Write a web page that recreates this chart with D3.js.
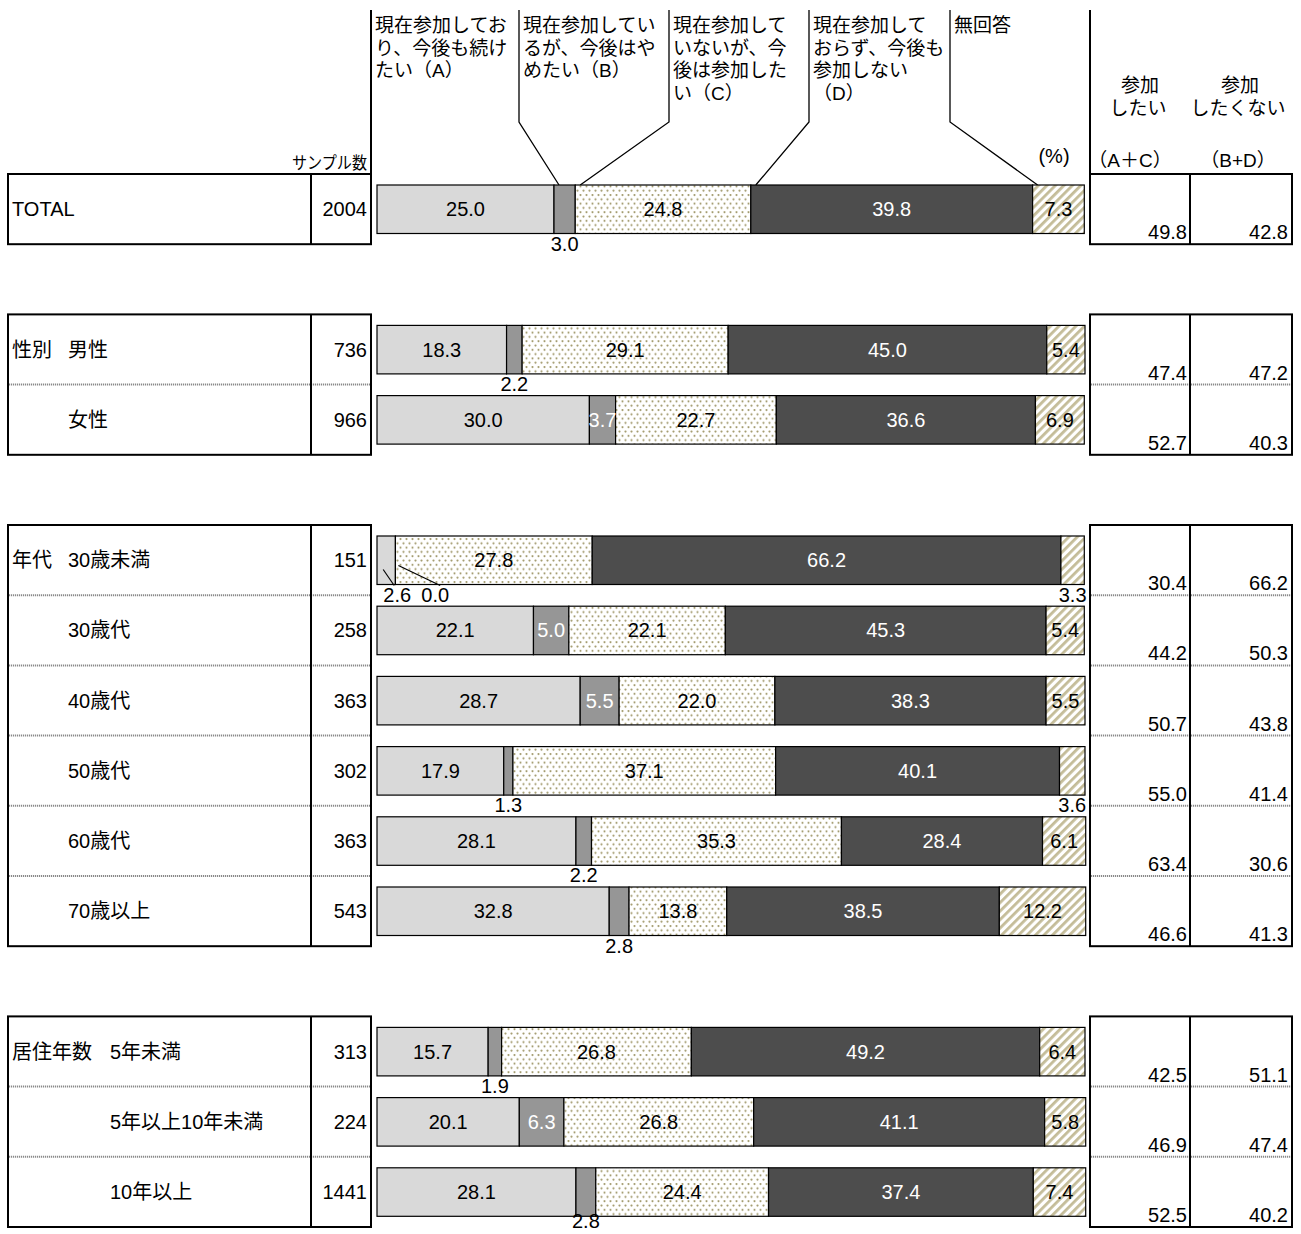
<!DOCTYPE html>
<html><head><meta charset="utf-8">
<script src="https://cdn.jsdelivr.net/npm/d3@7"></script>
<style>
html,body{margin:0;padding:0;background:#fff;}
svg text{font-family:"Liberation Sans",Arial,"Noto Sans CJK JP",sans-serif;fill:#000;}
</style></head>
<body><div id="chart"></div>
<script>
// ---- data ----
const categories = ['TOTAL','男性','女性','30歳未満','30歳代','40歳代','50歳代','60歳代','70歳以上','5年未満','5年以上10年未満','10年以上'];
const categoryGroups = ['TOTAL','性別','性別','年代','年代','年代','年代','年代','年代','居住年数','居住年数','居住年数'];
const sampleCounts = [2004,736,966,151,258,363,302,363,543,313,224,1441];
const seriesA  = [25.0,18.3,30.0, 2.6,22.1,28.7,17.9,28.1,32.8,15.7,20.1,28.1];
const seriesB  = [ 3.0, 2.2, 3.7, 0.0, 5.0, 5.5, 1.3, 2.2, 2.8, 1.9, 6.3, 2.8];
const seriesC  = [24.8,29.1,22.7,27.8,22.1,22.0,37.1,35.3,13.8,26.8,26.8,24.4];
const seriesD  = [39.8,45.0,36.6,66.2,45.3,38.3,40.1,28.4,38.5,49.2,41.1,37.4];
const seriesNA = [ 7.3, 5.4, 6.9, 3.3, 5.4, 5.5, 3.6, 6.1,12.2, 6.4, 5.8, 7.4];
const sumAC = [49.8,47.4,52.7,30.4,44.2,50.7,55.0,63.4,46.6,42.5,46.9,52.5];
const sumBD = [42.8,47.2,40.3,66.2,50.3,43.8,41.4,30.6,41.3,51.1,47.4,40.2];
const seriesLabels = [
  ['現在参加してお','り、今後も続け','たい（A）'],
  ['現在参加してい','るが、今後はや','めたい（B）'],
  ['現在参加して','いないが、今','後は参加した','い（C）'],
  ['現在参加して','おらず、今後も','参加しない','（D）'],
  ['無回答']
];
const sumHeaders = [['参加','したい','（A＋C）'],['参加','したくない','（B+D）']];

// ---- layout ----
const W = 1301, H = 1234;
const FS = 20, FSH = 19;
const svg = d3.select('#chart').append('svg').attr('width',W).attr('height',H);
const defs = svg.append('defs');

// patterns
const pDot = defs.append('pattern').attr('id','dots').attr('patternUnits','userSpaceOnUse').attr('width',6).attr('height',8.6);
pDot.append('rect').attr('width',6).attr('height',8.6).attr('fill','#fff');
pDot.append('circle').attr('cx',1.5).attr('cy',1.5).attr('r',1.1).attr('fill','#a39b6e');
pDot.append('circle').attr('cx',4.5).attr('cy',5.8).attr('r',1.1).attr('fill','#a39b6e');
const pHatch = defs.append('pattern').attr('id','hatch').attr('patternUnits','userSpaceOnUse').attr('width',6).attr('height',6).attr('patternTransform','rotate(45)');
pHatch.append('rect').attr('width',6).attr('height',6).attr('fill','#fff');
pHatch.append('rect').attr('width',2.8).attr('height',6).attr('fill','#c4bc98');

const fills = ['#d9d9d9','#969696','url(#dots)','#4d4d4d','url(#hatch)'];
const textFill = ['#000','#fff','#000','#fff','#000'];

// slot assignment with a blank slot between groups
const slots = [];
let s = 0;
categories.forEach((c,i)=>{ if(i>0 && categoryGroups[i]!==categoryGroups[i-1]) s++; slots.push(s); s++; });
const nSlots = s;
const y = d3.scaleBand().domain(d3.range(nSlots)).range([174,1227]).padding(0);
const x = d3.scaleLinear().domain([0,100]).range([377,1085]);
const barPad = 11, barH = y.bandwidth() - 2*barPad + 0.3;

const series = [seriesA,seriesB,seriesC,seriesD,seriesNA];
const rows = categories.map((c,i)=>{
  let cum = 0;
  const segs = series.map((arr,k)=>{ const v = arr[i]; const seg = {k, v, x0:cum, x1:cum+v}; cum += v; return seg; });
  return {c, i, slot:slots[i], group:categoryGroups[i], n:sampleCounts[i], segs};
});

// ---- header ----
const cols = [371, 519, 669, 809, 950];
const totalRow = rows[0];
const barTop0 = y(totalRow.slot) + barPad;
cols.forEach((cx,k)=>{
  if(k===0){
    svg.append('line').attr('x1',cx).attr('x2',cx).attr('y1',10).attr('y2',174).attr('stroke','#000').attr('stroke-width',2);
  } else {
    const tx = x(totalRow.segs[k].x0) + 5;
    svg.append('polyline').attr('points',`${cx},10 ${cx},122 ${tx},${barTop0}`).attr('fill','none').attr('stroke','#000').attr('stroke-width',1.3);
  }
  const t = svg.append('text').attr('x',cx+4).attr('font-size',FSH);
  seriesLabels[k].forEach((ln,j)=>t.append('tspan').attr('x',cx+4).attr('y',32+j*22.7).text(ln));
});
svg.append('text').attr('x',367).attr('y',169).attr('text-anchor','end').attr('font-size',17)
  .attr('textLength',75).attr('lengthAdjust','spacingAndGlyphs').text('サンプル数');
svg.append('text').attr('x',1054).attr('y',163).attr('text-anchor','middle').attr('font-size',FS).text('(%)');
svg.append('line').attr('x1',1090).attr('x2',1090).attr('y1',10).attr('y2',174).attr('stroke','#000').attr('stroke-width',2);
const sumCols = [1140,1240];
sumHeaders.forEach((h,k)=>{
  svg.append('text').attr('x',sumCols[k]).attr('y',92).attr('text-anchor','middle').attr('font-size',FSH).text(h[0]);
  svg.append('text').attr('x',sumCols[k]-2).attr('y',115).attr('text-anchor','middle').attr('font-size',FSH).text(h[1]);
  svg.append('text').attr('x',sumCols[k]-10+k*8).attr('y',167).attr('text-anchor','middle').attr('font-size',FSH).text(h[2]);
});

// ---- tables ----
const groupNames = Array.from(new Set(categoryGroups));
groupNames.forEach(g=>{
  const gr = rows.filter(r=>r.group===g);
  const top = y(gr[0].slot), bot = y(gr[gr.length-1].slot) + y.bandwidth();
  gr.slice(1).forEach(r=>{
    [[9,370],[1091,1291]].forEach(([a,b])=>{
      svg.append('line').attr('x1',a).attr('x2',b).attr('y1',y(r.slot)).attr('y2',y(r.slot)).attr('stroke','#8a8a8a').attr('stroke-width',2).attr('stroke-dasharray','1.2,0.8');
    });
  });
  svg.append('rect').attr('x',8).attr('y',top).attr('width',363).attr('height',bot-top).attr('fill','none').attr('stroke','#000').attr('stroke-width',2);
  svg.append('line').attr('x1',311).attr('x2',311).attr('y1',top).attr('y2',bot).attr('stroke','#000').attr('stroke-width',2);
  svg.append('rect').attr('x',1090).attr('y',top).attr('width',202).attr('height',bot-top).attr('fill','none').attr('stroke','#000').attr('stroke-width',2);
  svg.append('line').attr('x1',1190).attr('x2',1190).attr('y1',top).attr('y2',bot).attr('stroke','#000').attr('stroke-width',2);
});

rows.forEach((r,idx)=>{
  const mid = y(r.slot) + y.bandwidth()/2;
  const first = idx===0 || categoryGroups[idx-1]!==r.group;
  const indent = r.group==='居住年数' ? 110 : 68;
  if(r.group==='TOTAL'){
    svg.append('text').attr('x',12).attr('y',mid+7).attr('font-size',FS).text(r.c);
  } else {
    if(first) svg.append('text').attr('x',12).attr('y',mid+7).attr('font-size',FS).text(r.group);
    svg.append('text').attr('x',indent).attr('y',mid+7).attr('font-size',FS).text(r.c);
  }
  svg.append('text').attr('x',367).attr('y',mid+7).attr('text-anchor','end').attr('font-size',FS).text(r.n);
  const bottom = y(r.slot)+y.bandwidth();
  svg.append('text').attr('x',1187).attr('y',bottom-5).attr('text-anchor','end').attr('font-size',FS).text(sumAC[r.i].toFixed(1));
  svg.append('text').attr('x',1288).attr('y',bottom-5).attr('text-anchor','end').attr('font-size',FS).text(sumBD[r.i].toFixed(1));
});

// ---- bars ----
const barG = svg.append('g');
rows.forEach(r=>{
  const by = y(r.slot)+barPad;
  barG.selectAll(null).data(r.segs).join('rect')
    .attr('x',d=>x(d.x0)).attr('y',by)
    .attr('width',d=>Math.max(0,x(d.x1)-x(d.x0))).attr('height',barH)
    .attr('fill',d=>fills[d.k]).attr('stroke','#000').attr('stroke-width',1.2);
});
rows.forEach(r=>{
  const by = y(r.slot)+barPad, bb = by+barH, mid = by+barH/2;
  const below = [];
  r.segs.forEach(d=>{
    const cx = (x(d.x0)+x(d.x1))/2;
    if(d.v < 3.65){ below.push({d, cx, lx:cx}); }
    else {
      svg.append('text').attr('x',cx).attr('y',mid+7).attr('text-anchor','middle').attr('font-size',FS).style('fill',textFill[d.k]).text(d.v.toFixed(1));
    }
  });
  for(let j=1;j<below.length;j++){
    if(below[j].lx - below[j-1].lx < 38){
      if(!below[j-1].shifted){ below[j-1].lx += 11; below[j-1].shifted = true; }
      below[j].lx = below[j-1].lx + 38; below[j].shifted = true;
    }
  }
  below.forEach((b,j)=>{
    svg.append('text').attr('x',b.lx).attr('y',Math.min(bb+17, H-6)).attr('text-anchor','middle').attr('font-size',FS).text(b.d.v.toFixed(1));
    if(b.shifted){
      const firstOne = j===0 || !below[j-1].shifted;
      const sx = firstOne ? b.cx-3 : b.cx+3, sy = firstOne ? bb-15 : bb-19;
      const ex = firstOne ? b.lx-3 : b.lx+5;
      svg.append('line').attr('x1',sx).attr('y1',sy).attr('x2',ex).attr('y2',bb+1).attr('stroke','#000').attr('stroke-width',1.2);
    }
  });
});
</script></body></html>
